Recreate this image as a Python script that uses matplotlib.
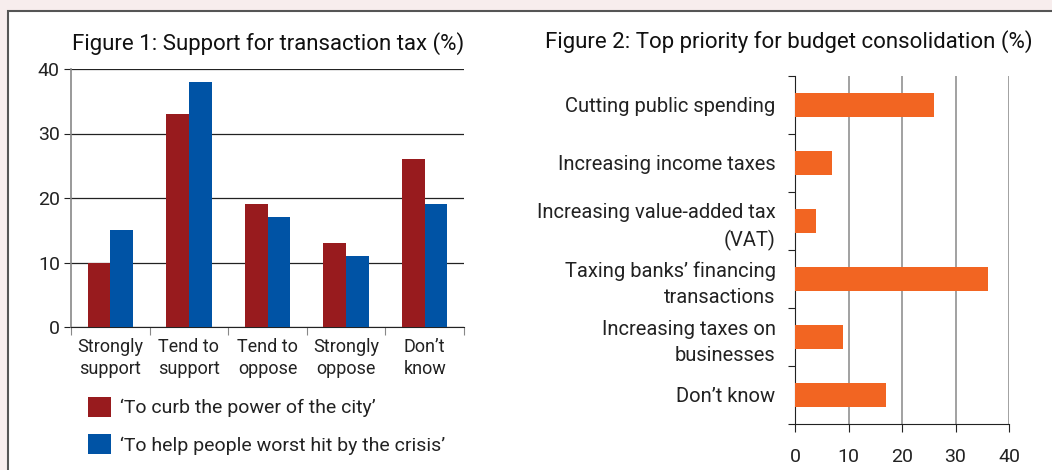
import matplotlib
matplotlib.use("Agg")
import matplotlib.pyplot as plt
from matplotlib.patches import Rectangle
import numpy as np

plt.rcParams['font.family'] = ['Roboto', 'DejaVu Sans']

# Figure 1 data
cat1 = ["Strongly\nsupport", "Tend to\nsupport", "Tend to\noppose", "Strongly\noppose", "Don\u2019t\nknow"]
curb = [10, 33, 19, 13, 26]
help_ = [15, 38, 17, 11, 19]
series1_labels = ["\u2018To curb the power of the city\u2019", "\u2018To help people worst hit by the crisis\u2019"]
yticks1 = [0, 10, 20, 30, 40]

# Figure 2 data
cat2 = ["Cutting public spending", "Increasing income taxes", "Increasing value-added tax\n(VAT)",
        "Taxing banks\u2019 financing\ntransactions", "Increasing taxes on\nbusinesses", "Don\u2019t know"]
priority = [26, 7, 4, 36, 9, 17]
xticks2 = [0, 10, 20, 30, 40]

RED = "#981b1e"
BLUE = "#0053a5"
ORANGE = "#f26522"
BG = "#f7eded"
TXT = "#222222"

W, H = 1052, 470
fig = plt.figure(figsize=(W / 100, H / 100), dpi=100)
fig.patch.set_facecolor(BG)

# white panel with border
fig.patches.append(Rectangle((8 / W, -0.01), 1, 1 - 11 / H + 0.01, transform=fig.transFigure,
                             facecolor="white", edgecolor="#555555", linewidth=1.5, zorder=-10))

def ax_rect(x0, y0, x1, y1):
    return [x0 / W, 1 - y1 / H, (x1 - x0) / W, (y1 - y0) / H]

# ---------------- Figure 1 ----------------
ax1 = fig.add_axes(ax_rect(71, 69, 464, 327))
ax1.set_facecolor("none")
x = np.arange(len(cat1))
bw = 0.29
ax1.bar(x - bw / 2, curb, width=bw, color=RED, zorder=3, label=series1_labels[0])
ax1.bar(x + bw / 2, help_, width=bw, color=BLUE, zorder=3, label=series1_labels[1])
ax1.set_xlim(-0.5, len(cat1) - 0.5)
ax1.set_ylim(0, 40)
ax1.set_yticks(yticks1)
ax1.set_yticklabels([str(v) for v in yticks1], fontsize=14, color=TXT)
ax1.yaxis.grid(True, color=TXT, linewidth=0.9)
ax1.set_axisbelow(True)
for s in ["top", "right"]:
    ax1.spines[s].set_visible(False)
ax1.spines["left"].set_color("#888888")
ax1.spines["left"].set_linewidth(1.2)
ax1.spines["bottom"].set_color(TXT)
ax1.tick_params(axis="y", length=5, color=TXT, pad=3)
ax1.set_xticks(np.arange(len(cat1) + 1) - 0.5)
ax1.set_xticklabels([])
ax1.tick_params(axis="x", length=6, color="#888888")
ax1.set_xticks(x, minor=True)
ax1.set_xticklabels(cat1, minor=True, fontsize=13, color=TXT, linespacing=1.3)
ax1.tick_params(axis="x", which="minor", length=0, pad=8)
fig.text(268 / W, 1 - 44 / H, "Figure 1: Support for transaction tax (%)", ha="center", va="center",
         fontsize=16, color="#111111")
leg = ax1.legend(loc="upper left", bbox_to_anchor=(0.043, -0.271), frameon=False, fontsize=14,
                 handlelength=1.2, handleheight=1.2, handletextpad=0.45, labelspacing=0.85,
                 borderaxespad=0, borderpad=0, labelcolor=TXT)

# ---------------- Figure 2 ----------------
ax2 = fig.add_axes(ax_rect(795, 76, 1009, 424))
ax2.set_facecolor("none")
y = np.arange(len(cat2))
ax2.barh(y, priority, height=0.41, color=ORANGE, zorder=3)
ax2.set_ylim(len(cat2) - 0.5, -0.5)
ax2.set_xlim(0, 40)
ax2.set_xticks(xticks2)
ax2.set_xticklabels([str(v) for v in xticks2], fontsize=14, color=TXT)
ax2.xaxis.grid(True, color="#888888", linewidth=1.1)
ax2.set_axisbelow(True)
for s in ["top", "right"]:
    ax2.spines[s].set_visible(False)
ax2.spines["left"].set_color(TXT)
ax2.spines["bottom"].set_color(TXT)
ax2.tick_params(axis="x", length=6, color=TXT, pad=11)
ax2.set_yticks(np.arange(len(cat2) + 1) - 0.5)
ax2.set_yticklabels([])
ax2.tick_params(axis="y", length=5, color=TXT)
ax2.set_yticks(y, minor=True)
ax2.set_yticklabels(cat2, minor=True, fontsize=14.5, color=TXT, ha="right", linespacing=1.45)
ax2.tick_params(axis="y", which="minor", length=0, pad=14)
fig.text(789 / W, 1 - 42 / H, "Figure 2: Top priority for budget consolidation (%)", ha="center", va="center",
         fontsize=16, color="#111111")

fig.savefig("out.png", dpi=100, facecolor=BG)
